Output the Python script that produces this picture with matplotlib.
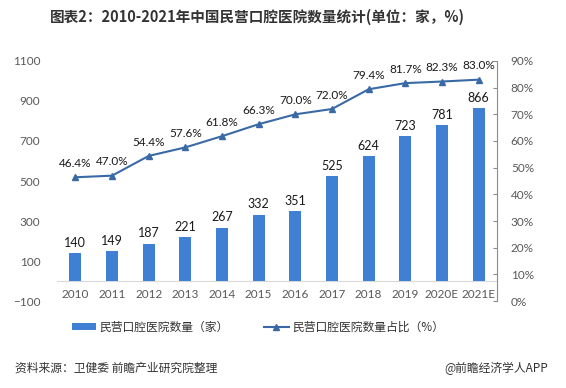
import matplotlib
matplotlib.use("Agg")
import matplotlib.pyplot as plt
import numpy as np

plt.rcParams['font.family'] = ['Lato', 'Noto Sans CJK SC', 'DejaVu Sans']

# data
years = ['2010', '2011', '2012', '2013', '2014', '2015', '2016', '2017',
         '2018', '2019', '2020E', '2021E']
counts = [140, 149, 187, 221, 267, 332, 351, 525, 624, 723, 781, 866]
shares = [46.4, 47.0, 54.4, 57.6, 61.8, 66.3, 70.0, 72.0, 79.4, 81.7, 82.3, 83.0]

left_ticks = [-100, 100, 300, 500, 700, 900, 1100]
right_ticks = [0, 10, 20, 30, 40, 50, 60, 70, 80, 90]

title = '图表2：2010-2021年中国民营口腔医院数量统计(单位：家，%)'
bar_name = '民营口腔医院数量（家）'
line_name = '民营口腔医院数量占比（%）'
source = '资料来源：卫健委 前瞻产业研究院整理'
brand = '@前瞻经济学人APP'

bar_color = '#3f7fd4'
line_color = '#3a6aa6'
tick_color = '#595959'

fig = plt.figure(figsize=(5.66, 3.88), dpi=100)
ax = fig.add_axes([0.1007, 0.2242, 0.7773, 0.6186])
x = np.arange(len(years))

bars = ax.bar(x, counts, width=0.33, color=bar_color, zorder=2)
ax.set_ylim(-100, 1100)
ax.set_xlim(-0.5, len(years) - 0.5)
ax.set_yticks(left_ticks)
ax.set_xticks(x)
ax.set_xticklabels(years)
ax.axhline(0, color='#d9d9d9', lw=0.8, zorder=1)
for s in ['top', 'right', 'bottom', 'left']:
    ax.spines[s].set_visible(False)
ax.tick_params(axis='y', length=0, pad=12, labelsize=8.5, colors=tick_color)
ax.tick_params(axis='x', length=0, pad=-9, labelsize=8.5, colors=tick_color)

# value labels over the bars
for xi, v in zip(x, counts):
    ax.annotate(str(v), (xi, v), xytext=(0, 3), textcoords='offset points',
                ha='center', va='bottom', fontsize=9, color='#1a1a1a')

ax2 = ax.twinx()
line, = ax2.plot(x, shares, color=line_color, lw=1.5, marker='^',
                 markersize=5, zorder=3)
ax2.set_ylim(0, 90)
ax2.set_yticks(right_ticks)
ax2.set_yticklabels([f'{t}%' for t in right_ticks])
for s in ['top', 'left', 'bottom']:
    ax2.spines[s].set_visible(False)
ax2.spines['right'].set_color('#8c8c8c')
ax2.spines['right'].set_linewidth(0.8)
ax2.tick_params(axis='y', direction='in', length=3, width=0.8,
                pad=10, labelsize=8.5)
ax2.tick_params(axis='y', colors='#8c8c8c', labelcolor=tick_color)

# percent labels over the line
for xi, v in zip(x, shares):
    ax2.annotate(f'{v:.1f}%', (xi, v), xytext=(0, 6), textcoords='offset points',
                 ha='center', va='bottom', fontsize=8.5, color='#1a1a1a')

fig.text(0.455, 0.956, title, ha='center', va='center', fontsize=10.5,
         fontweight='bold', color='#333333', family=['Noto Sans CJK SC'])

fig.legend([bars, line], [bar_name, line_name], loc='center',
           bbox_to_anchor=(0.455, 0.157), ncol=2, frameon=False,
           handlelength=2.1, handleheight=0.45, handletextpad=0.25,
           columnspacing=3.0, prop={'family': 'Noto Sans CJK SC', 'size': 8.5},
           labelcolor='#333333')

fig.text(15 / 566, 0.0515, source, ha='left', va='center', fontsize=8.5,
         color='#333333', family=['Noto Sans CJK SC'])
fig.text(548 / 566, 0.0515, brand, ha='right', va='center', fontsize=8.5,
         color='#333333', family=['Noto Sans CJK SC'])

fig.savefig('out.png', dpi=100)
